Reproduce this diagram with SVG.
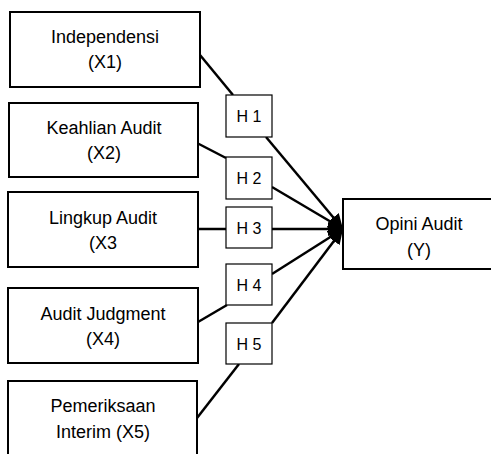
<svg xmlns="http://www.w3.org/2000/svg" width="491" height="454" viewBox="0 0 491 454">
<style>
.box{fill:#fff;stroke:#000;stroke-width:2}
.hbox{fill:#fff;stroke:#000;stroke-width:1.2}
.t{font-family:"Liberation Sans",Arial,sans-serif;font-size:18px;fill:#000;text-anchor:middle}
.h{font-family:"Liberation Sans",Arial,sans-serif;font-size:16px;fill:#000;text-anchor:middle}
.ln{stroke:#000;stroke-width:2.5;fill:none}
.la{stroke:#000;stroke-width:2.5;fill:none;marker-end:url(#ah)}
</style>
<defs>
<marker id="ah" markerUnits="userSpaceOnUse" markerWidth="15" markerHeight="14" refX="15" refY="7" orient="auto">
<path d="M0,0 L15,7 L0,14 z" fill="#000"/>
</marker>
</defs>
<g id="connectors">
<line class="ln" x1="200" y1="55" x2="233" y2="95"/>
<line class="la" x1="266" y1="137" x2="343" y2="229"/>
<line class="ln" x1="197" y1="143" x2="226" y2="158"/>
<line class="la" x1="272" y1="187" x2="343" y2="229"/>
<line class="ln" x1="198" y1="229" x2="226" y2="229"/>
<line class="la" x1="272" y1="229" x2="343" y2="229"/>
<line class="ln" x1="198" y1="322" x2="227" y2="305"/>
<line class="la" x1="272" y1="274" x2="343" y2="229"/>
<line class="ln" x1="197" y1="418" x2="239" y2="364"/>
<line class="la" x1="272" y1="323" x2="343" y2="229"/>
</g>
<g id="x1">
<rect class="box" x="10" y="12" width="190" height="75"/>
<text class="t" x="105" y="43">Independensi</text>
<text class="t" x="105" y="68">(X1)</text>
</g>
<g id="x2">
<rect class="box" x="9" y="103" width="189" height="74"/>
<text class="t" x="104" y="134">Keahlian Audit</text>
<text class="t" x="104" y="159">(X2)</text>
</g>
<g id="x3">
<rect class="box" x="8" y="192" width="190" height="75"/>
<text class="t" x="103" y="224">Lingkup Audit</text>
<text class="t" x="103" y="249">(X3</text>
</g>
<g id="x4">
<rect class="box" x="8" y="288" width="190" height="75"/>
<text class="t" x="103" y="320">Audit Judgment</text>
<text class="t" x="103" y="345">(X4)</text>
</g>
<g id="x5">
<rect class="box" x="8" y="381" width="189" height="90"/>
<text class="t" x="103" y="412">Pemeriksaan</text>
<text class="t" x="103" y="438">Interim (X5)</text>
</g>
<g id="h1">
<rect class="hbox" x="226" y="95" width="46" height="42"/>
<text class="h" x="249" y="122">H 1</text>
</g>
<g id="h2">
<rect class="hbox" x="226" y="157" width="46" height="42"/>
<text class="h" x="249" y="184">H 2</text>
</g>
<g id="h3">
<rect class="hbox" x="226" y="207" width="46" height="41"/>
<text class="h" x="249" y="234">H 3</text>
</g>
<g id="h4">
<rect class="hbox" x="226" y="264" width="46" height="41"/>
<text class="h" x="249" y="291">H 4</text>
</g>
<g id="h5">
<rect class="hbox" x="226" y="323" width="46" height="41"/>
<text class="h" x="249" y="350">H 5</text>
</g>
<g id="y">
<rect class="box" x="343" y="199" width="155" height="70"/>
<text class="t" x="419" y="230">Opini Audit</text>
<text class="t" x="419" y="256">(Y)</text>
</g>
</svg>
